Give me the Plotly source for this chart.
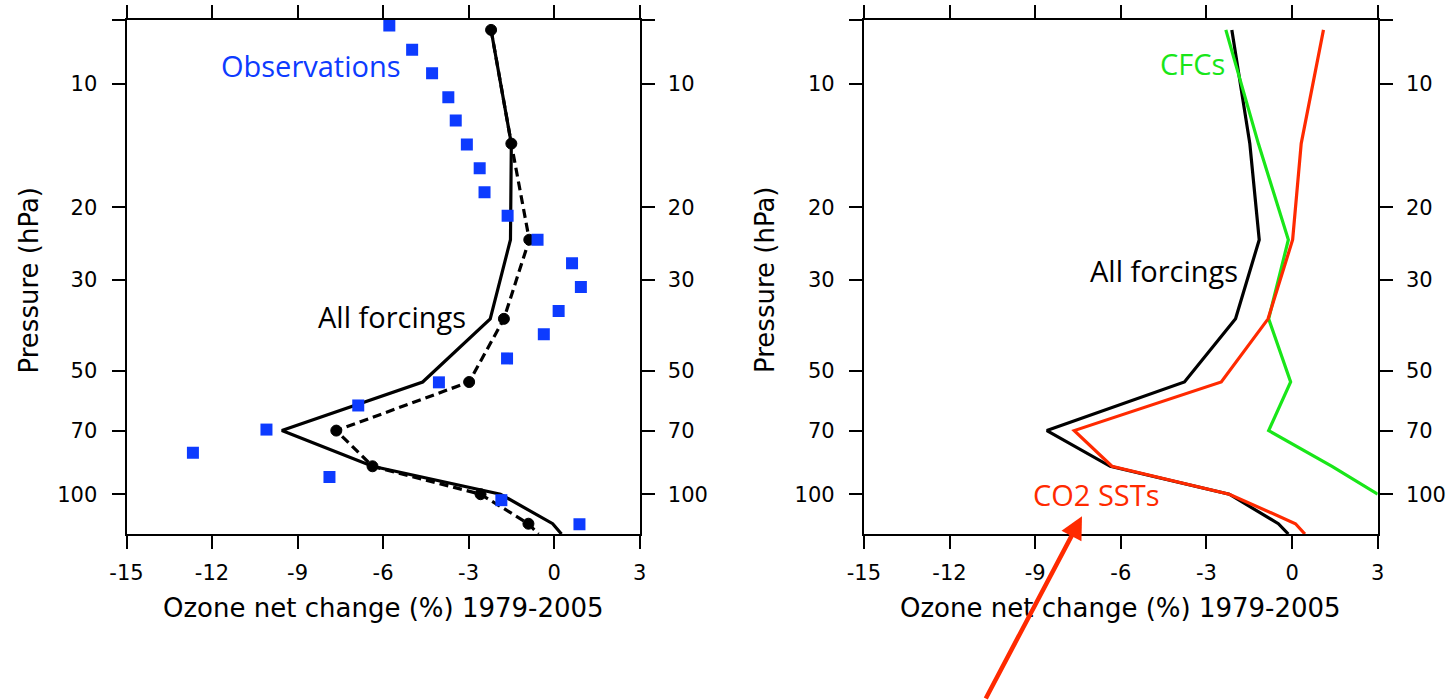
import numpy as np
import plotly.graph_objects as go

# ---------------- data ----------------
# Observations (left panel, blue squares)
p_obs = [7.22, 8.27, 9.44, 10.8, 12.3, 14.07, 16.07, 18.38, 20.99, 24.0, 27.4,
         31.3, 35.8, 40.8, 46.7, 53.4, 60.8, 69.6, 79.3, 90.8, 103.4, 118.3]
obs = [-5.78, -4.98, -4.28, -3.71, -3.45, -3.06, -2.61, -2.44, -1.63, -0.58, 0.63,
       0.94, 0.16, -0.36, -1.65, -4.04, -6.87, -10.09, -12.67, -7.88, -1.85, 0.89]

# Model pressure levels (last value = where the lines leave the plot bottom)
p_model = [7.4, 14.0, 24.0, 37.4, 53.3, 70.0, 85.5, 100.0, 118.0, 125.0]

# Left panel: All forcings (solid) and dashed with dots
all_forcings_left = [-2.21, -1.50, -1.53, -2.24, -4.61, -9.55, -6.37, -1.88, -0.05, 0.26]
dashed_left = [-2.21, -1.50, -0.87, -1.76, -2.98, -7.64, -6.37, -2.58, -0.90, -0.55]
dashed_has_dot = [True] * 9 + [False]

# Right panel
all_forcings_right = [-2.11, -1.48, -1.15, -1.98, -3.77, -8.59, -6.37, -2.20, -0.48, -0.13]
co2_ssts = [1.10, 0.32, 0.02, -0.84, -2.48, -7.63, -6.31, -2.20, 0.12, 0.45]
p_cfcs = [7.4, 14.0, 24.0, 37.4, 53.3, 70.0, 85.5, 100.0]
cfcs = [-2.32, -1.18, -0.13, -0.82, -0.05, -0.82, 1.40, 3.0]

# Axis ticks
x_ticks = [-15, -12, -9, -6, -3, 0, 3]
x_ticktext = ["-15", "-12", "-9", "-6", "-3", "0", "3"]
y_ticks = [7, 10, 20, 30, 50, 70, 100]
y_ticktext = ["", "10", "20", "30", "50", "70", "100"]
x_range = [-15, 3]
p_range = [7, 125]

# ---------------- styling ----------------
BLUE = "#0d3bff"
GREEN = "#19e619"
RED = "#ff2a00"
AXFONT = dict(family="DejaVu Sans", size=21, color="black")
TITLEFONT = dict(family="DejaVu Sans", size=26, color="black")
LBLFONT = "Open Sans"
W, H = 1448, 700

fig = go.Figure()

# Left panel
fig.add_trace(go.Scatter(x=all_forcings_left, y=p_model, mode="lines",
                         line=dict(color="black", width=3.2), xaxis="x", yaxis="y",
                         showlegend=False))
fig.add_trace(go.Scatter(x=dashed_left, y=p_model, mode="lines",
                         line=dict(color="black", width=3.2, dash="9px,5px"),
                         xaxis="x", yaxis="y", showlegend=False))
fig.add_trace(go.Scatter(x=dashed_left, y=p_model, mode="markers",
                         marker=dict(color="#000000", opacity=1, symbol="circle",
                                     size=[11 if d else 0 for d in dashed_has_dot],
                                     line=dict(width=1, color="#000000")),
                         xaxis="x", yaxis="y", showlegend=False))
fig.add_trace(go.Scatter(x=obs, y=p_obs, mode="markers",
                         marker=dict(symbol="square", color=BLUE, size=12, line=dict(width=0)),
                         xaxis="x", yaxis="y", showlegend=False))

# Right panel
fig.add_trace(go.Scatter(x=all_forcings_right, y=p_model, mode="lines",
                         line=dict(color="black", width=3.2), xaxis="x2", yaxis="y2",
                         showlegend=False))
fig.add_trace(go.Scatter(x=cfcs, y=p_cfcs, mode="lines",
                         line=dict(color=GREEN, width=3.2), xaxis="x2", yaxis="y2",
                         showlegend=False))
fig.add_trace(go.Scatter(x=co2_ssts, y=p_model, mode="lines",
                         line=dict(color=RED, width=3.2), xaxis="x2", yaxis="y2",
                         showlegend=False))

# empty traces so that the right-hand label axes are drawn
fig.add_trace(go.Scatter(x=[], y=[], xaxis="x", yaxis="y3", showlegend=False, hoverinfo="skip"))
fig.add_trace(go.Scatter(x=[], y=[], xaxis="x2", yaxis="y4", showlegend=False, hoverinfo="skip"))

xdom1 = [126.5 / W, 639.6 / W]
xdom2 = [863.9 / W, 1377.7 / W]
ydom = [1 - 534 / H, 1 - 20 / H]
yr = [np.log10(p_range[1]), np.log10(p_range[0])]

xcommon = dict(range=x_range, tickvals=x_ticks, ticktext=x_ticktext, ticks="outside",
               ticklen=13, tickwidth=2, tickcolor="black", showline=True, linewidth=2,
               linecolor="black", mirror="ticks", showgrid=False, zeroline=False,
               tickfont=AXFONT, ticklabelstandoff=6, automargin=False)
ycommon = dict(type="log", range=yr, tickvals=y_ticks, ticktext=y_ticktext,
               ticks="outside", ticklen=13, tickwidth=2, tickcolor="black",
               showline=True, linewidth=2, linecolor="black", mirror="ticks",
               showgrid=False, zeroline=False, tickfont=AXFONT, ticklabelstandoff=10,
               automargin=False)
yright = dict(type="log", range=yr, autorange=False, tickvals=y_ticks, ticktext=y_ticktext,
              ticks="outside", ticklen=13, tickwidth=2, tickcolor="rgba(0,0,0,0)",
              showline=False, showgrid=False, zeroline=False, tickfont=AXFONT,
              side="right", ticklabelstandoff=10, automargin=False)

fig.update_layout(
    width=W, height=H, margin=dict(l=0, r=0, t=0, b=0, autoexpand=False),
    paper_bgcolor="white", plot_bgcolor="white", showlegend=False,
    xaxis=dict(domain=xdom1, anchor="y", **xcommon),
    xaxis2=dict(domain=xdom2, anchor="y2", **xcommon),
    yaxis=dict(domain=ydom, anchor="x", **ycommon),
    yaxis2=dict(domain=ydom, anchor="x2", **ycommon),
    yaxis3=dict(overlaying="y", anchor="x", **yright),
    yaxis4=dict(overlaying="y2", anchor="x2", **yright),
)

ann = []
# axis titles
for xd in (xdom1, xdom2):
    ann.append(dict(text="Ozone net change (%) 1979-2005", xref="paper", yref="paper",
                    x=(xd[0] + xd[1]) / 2, y=1 - 607.5 / H, xanchor="center", yanchor="middle",
                    showarrow=False, font=TITLEFONT))
for xc in (28.5, 765):
    ann.append(dict(text="Pressure (hPa)", xref="paper", yref="paper", x=xc / W,
                    y=1 - 280 / H, xanchor="center", yanchor="middle", textangle=-90,
                    showarrow=False, font=TITLEFONT))

# in-plot labels
def lab(text, x, p, color, xref, yref):
    return dict(text=text, x=x, y=np.log10(p), xref=xref, yref=yref, xanchor="center",
                yanchor="middle", showarrow=False,
                font=dict(family=LBLFONT, size=29, color=color))

ann.append(lab("Observations", -8.54, 9.04, BLUE, "x", "y"))
ann.append(lab("All forcings", -5.69, 37.0, "black", "x", "y"))
ann.append(lab("All forcings", -4.50, 28.6, "black", "x2", "y2"))
ann.append(lab("CFCs", -3.50, 8.95, GREEN, "x2", "y2"))
ann.append(lab("CO2 SSTs", -6.84, 100.0, RED, "x2", "y2"))

# red arrow pointing to the CO2 SSTs label
ann.append(dict(text="", x=-7.36, y=np.log10(113.1), xref="x2", yref="y2",
                showarrow=True, ax=-97, ay=186, arrowcolor=RED, arrowwidth=4.5,
                arrowhead=2, arrowsize=1.0, standoff=0))

fig.update_layout(annotations=ann)

fig.write_html("out.html")
